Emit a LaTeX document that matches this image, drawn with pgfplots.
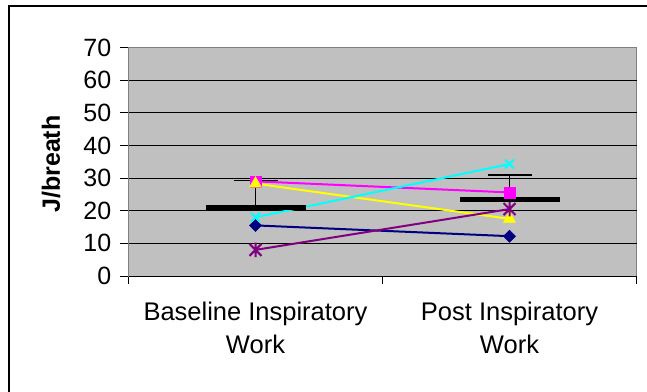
\documentclass[border=0pt]{standalone}
\usepackage{fontspec}
\setmainfont{Liberation Sans}
\usepackage{pgfplots}
\usepackage{pgfplotstable}
\pgfplotsset{compat=1.18}
\definecolor{plotgray}{HTML}{C0C0C0}
\definecolor{bordergray}{HTML}{808080}
\definecolor{navyc}{HTML}{000080}
\definecolor{magc}{HTML}{FF00FF}
\definecolor{yelc}{HTML}{FFFF00}
\definecolor{cyanc}{HTML}{00FFFF}
\definecolor{purpc}{HTML}{800080}
\pgfdeclareplotmark{xstar}{%
  \pgfpathmoveto{\pgfqpoint{-\pgfplotmarksize}{-\pgfplotmarksize}}%
  \pgfpathlineto{\pgfqpoint{\pgfplotmarksize}{\pgfplotmarksize}}%
  \pgfpathmoveto{\pgfqpoint{-\pgfplotmarksize}{\pgfplotmarksize}}%
  \pgfpathlineto{\pgfqpoint{\pgfplotmarksize}{-\pgfplotmarksize}}%
  \pgfpathmoveto{\pgfqpoint{0pt}{-1.2\pgfplotmarksize}}%
  \pgfpathlineto{\pgfqpoint{0pt}{1.2\pgfplotmarksize}}%
  \pgfusepathqstroke}
% x = category (0 baseline, 1 post)
\pgfplotstableread{
x s1   s2   s3   s4   s5
0 15.5 29.0 28.3 18.0 8.0
1 12.2 25.6 17.5 34.3 20.5
}\subjects
\pgfplotstableread{
x mean err
0 20.9 8.3
1 23.4 7.5
}\means
\begin{document}
\begin{tikzpicture}[x=1pt,y=1pt]
\begin{axis}[
  at={(128.5pt,115pt)}, anchor=south west,
  width=508pt, height=228.5pt, scale only axis,
  xmin=-0.5, xmax=1.5, ymin=0, ymax=70,
  axis background/.style={fill=plotgray},
  axis line style={draw=bordergray, line width=1pt},
  clip=false,
  tick align=outside,
  major tick length=8pt,
  tick style={black, line width=1pt},
  xtick={-0.5,0.5,1.5}, xticklabels={},
  xtick pos=bottom,
  ytick={0,10,...,70}, ytick pos=left,
  /pgf/number format/assume math mode=true,
  yticklabel style={font=\fontsize{25}{30}\selectfont, inner sep=0pt, xshift=-9pt},
  extra y ticks={0,10,...,60}, extra y tick labels={},
  extra y tick style={grid=major, major grid style={black, line width=1pt}, major tick length=0pt},
  extra x ticks={0,1},
  extra x tick labels={Baseline Inspiratory\\Work, Post Inspiratory\\Work},
  extra x tick style={major tick length=0pt,
     xticklabel style={align=center, font=\fontsize{25.5}{33}\selectfont, inner sep=0pt, yshift=-26pt}},
  ylabel={J/breath},
  ylabel style={font=\fontsize{25}{30}\selectfont\bfseries, at={(axis description cs:-0.1526,0.49)}, anchor=center},
]
% lines first
\addplot[navyc, line width=2pt, no marks] table[x=x, y=s1] {\subjects};
\addplot[magc, line width=2pt, no marks] table[x=x, y=s2] {\subjects};
\addplot[yelc, line width=2pt, no marks] table[x=x, y=s3] {\subjects};
\addplot[cyanc, line width=2pt, no marks] table[x=x, y=s4] {\subjects};
\addplot[purpc, line width=2pt, no marks] table[x=x, y=s5] {\subjects};
% means with upper error bars
\addplot[draw=none, mark=-, mark size=50pt, mark options={line width=5pt, black},
  error bars/.cd, y dir=plus, y explicit,
  error bar style={line width=1.5pt, black},
  error mark=|, error mark options={mark size=22pt, line width=1.5pt, black}]
  table[x=x, y=mean, y error=err] {\means};
% markers on top
\addplot[only marks, navyc, mark=square*, mark size=4.3pt, mark options={rotate=45, fill=navyc}] table[x=x, y=s1] {\subjects};
\addplot[only marks, magc, mark=square*, mark size=5.5pt, mark options={fill=magc}] table[x=x, y=s2] {\subjects};
\addplot[only marks, yelc, mark=triangle*, mark size=7pt, mark options={fill=yelc}] table[x=x, y=s3] {\subjects};
\addplot[only marks, cyanc, mark=x, mark size=6.5pt, mark options={line width=2pt}] table[x=x, y=s4] {\subjects};
\addplot[only marks, purpc, mark=xstar, mark size=6pt, mark options={line width=2pt}] table[x=x, y=s5] {\subjects};
\end{axis}
\draw[line width=2pt, black] (9,-5) -- (9,385) -- (652,385);
\pgfresetboundingbox
\path[use as bounding box] (0,0) rectangle (647,391);
\end{tikzpicture}
\end{document}
